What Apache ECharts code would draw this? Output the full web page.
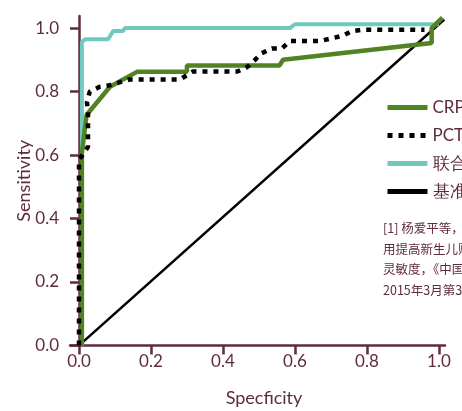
<!DOCTYPE html>
<html><head><meta charset="utf-8">
<script src="https://cdn.jsdelivr.net/npm/echarts@6/dist/echarts.min.js"></script>
<style>html,body{margin:0;padding:0;background:#fff}#c{width:462px;height:411px}</style>
</head><body><div id="c"></div>
<script>
const tickValues = [0, 0.2, 0.4, 0.6, 0.8, 1.0];
const seriesNames = ['CRP', 'PCT', '联合检测', '基准线'];
const crpPoints = [[0.008,0],[0.008,0.606],[0.021,0.726],[0.086,0.815],[0.161,0.862],[0.3,0.862],[0.3,0.882],[0.557,0.882],[0.567,0.9],[0.98,0.953],[0.98,1.0],[1.01,1.033]];
const pctPoints = [[0,0],[0,0.584],[0.025,0.626],[0.025,0.74],[0.022,0.765],[0.03,0.8],[0.058,0.815],[0.086,0.82],[0.14,0.838],[0.28,0.838],[0.317,0.863],[0.44,0.863],[0.467,0.877],[0.489,0.9],[0.508,0.921],[0.536,0.936],[0.564,0.936],[0.586,0.959],[0.669,0.959],[0.703,0.968],[0.733,0.976],[0.758,0.99],[0.786,0.995],[0.96,0.995]];
const combPoints = [[0.008,0],[0.008,0.956],[0.017,0.965],[0.081,0.965],[0.095,0.991],[0.122,0.991],[0.128,1.0],[0.586,1.0],[0.6,1.012],[1.0,1.012]];
const basePoints = [[0.005,0.005],[1.015,1.027]];
const footnote = ['[1] 杨爱平等，PCT与CRP联合应', '用提高新生儿败血症诊断的', '灵敏度，《中国妇幼保健》，', '2015年3月第30卷'];

const maroon = '#5e2b40';
const font = 'Lato';
const chart = echarts.init(document.getElementById('c'));
const axisCommon = {
  type: 'value',
  axisLine: {show: true, onZero: true, lineStyle: {color: maroon, width: 2.5}},
  axisTick: {show: true, length: 9, lineStyle: {color: maroon, width: 2.5}, customValues: tickValues},
  axisLabel: {color: maroon, fontSize: 17, fontFamily: font, margin: 8, customValues: tickValues, formatter: v => v.toFixed(1)},
  splitLine: {show: false},
  nameLocation: 'middle',
  nameMoveOverlap: false,
  nameTextStyle: {color: maroon, fontSize: 18, fontFamily: font}
};
chart.setOption({
  animation: false,
  grid: {left: 70, top: 16, width: 375, height: 329.5, outerBoundsMode: 'none', containLabel: false},
  xAxis: Object.assign({}, axisCommon, {min: -0.025, max: 1.017, name: 'Specficity', nameGap: 44,
    nameTextStyle: {color: maroon, fontSize: 18, fontFamily: font, padding: [0,0,0,13]}}),
  yAxis: Object.assign({}, axisCommon, {min: 0, max: 1.038, name: 'Sensitivity', nameGap: 37,
    axisLabel: Object.assign({}, axisCommon.axisLabel, {margin: 11})}),
  legend: {
    orient: 'vertical', left: 380, top: 94, itemWidth: 40, itemHeight: 14, itemGap: 11,
    itemStyle: {opacity: 0},
    lineStyle: {width: 5},
    textStyle: {color: maroon, fontSize: 17, fontFamily: font, lineHeight: 17},
    data: seriesNames
  },
  graphic: [{
    type: 'text', left: 383, top: 218,
    style: {text: footnote.join('\n'), fill: maroon, font: '12.5px "Noto Sans CJK SC"', lineHeight: 20.5}
  }],
  series: [
    {name: seriesNames[3], type: 'line', data: basePoints, symbol: 'none', z: 1,
     lineStyle: {color: '#000', width: 2.5}, itemStyle: {color: '#000'}},
    {name: seriesNames[2], type: 'line', data: combPoints, symbol: 'none', z: 2,
     lineStyle: {color: '#70c9be', width: 4}, itemStyle: {color: '#70c9be'}},
    {name: seriesNames[0], type: 'line', data: crpPoints, symbol: 'none', z: 3,
     lineStyle: {color: '#518322', width: 4.5}, itemStyle: {color: '#518322'}},
    {name: seriesNames[1], type: 'line', data: pctPoints, symbol: 'none', z: 4,
     lineStyle: {color: '#000', width: 4.5, type: [5, 6], cap: 'butt'}, itemStyle: {color: '#000'}}
  ]
});
</script></body></html>
